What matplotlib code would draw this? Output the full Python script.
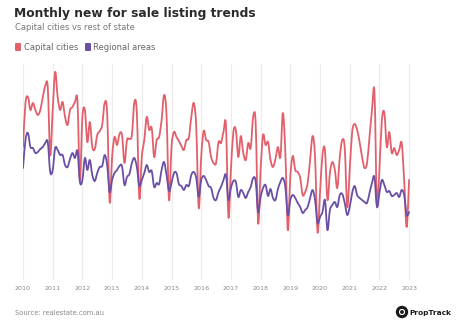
import matplotlib
matplotlib.use("Agg")
import matplotlib.pyplot as plt
from matplotlib.patches import FancyBboxPatch, Circle, PathPatch
from matplotlib.path import Path

# Monthly series, Jan 2010 .. Jan 2023 (index units)
capital = [
    133, 177, 183, 170, 177, 170, 165, 170, 183, 194, 193, 125,   # 2010
    170, 208, 183, 170, 178, 163, 155, 170, 173, 178, 179, 100,   # 2011
    163, 170, 138, 158, 133, 131, 145, 149, 155, 177, 167, 78,    # 2012
    123, 143, 135, 146, 145, 117, 140, 141, 145, 178, 167, 82,    # 2013
    123, 140, 163, 150, 152, 123, 140, 143, 160, 185, 165, 80,    # 2014
    133, 148, 143, 139, 134, 130, 140, 142, 163, 177, 153, 72,    # 2015
    123, 149, 140, 138, 123, 117, 117, 138, 137, 148, 155, 63,    # 2016
    110, 148, 150, 123, 144, 127, 120, 137, 132, 163, 157, 57,    # 2017
    110, 145, 135, 138, 120, 113, 121, 133, 123, 167, 127, 50,    # 2018
    103, 124, 110, 108, 102, 85, 88, 97, 120, 144, 123, 48,       # 2019
    87, 125, 130, 80, 107, 118, 110, 92, 123, 140, 132, 73,       # 2020
    110, 148, 156, 150, 138, 123, 112, 117, 143, 170, 188, 77,    # 2021
    110, 160, 167, 133, 148, 127, 132, 125, 130, 137, 100, 53,    # 2022
    100,                                                           # 2023
]
regional = [
    112, 140, 147, 133, 132, 127, 128, 131, 133, 137, 138, 108,   # 2010
    110, 132, 130, 125, 125, 115, 113, 121, 127, 122, 129, 98,    # 2011
    100, 122, 110, 120, 105, 99, 107, 113, 114, 125, 115, 88,     # 2012
    100, 107, 110, 114, 114, 95, 103, 106, 117, 122, 113, 94,     # 2013
    100, 107, 115, 108, 109, 93, 97, 96, 110, 118, 105, 89,       # 2014
    97, 107, 107, 96, 94, 90, 95, 94, 105, 108, 102, 83,          # 2015
    100, 104, 100, 94, 92, 82, 80, 88, 93, 100, 105, 80,          # 2016
    92, 99, 98, 83, 90, 87, 82, 88, 93, 102, 99, 68,              # 2017
    83, 92, 95, 84, 91, 82, 80, 91, 98, 102, 93, 65,              # 2018
    80, 85, 82, 77, 73, 67, 70, 73, 82, 90, 80, 57,               # 2019
    63, 68, 80, 50, 70, 75, 78, 73, 85, 86, 77, 65,               # 2020
    73, 87, 94, 85, 82, 80, 78, 77, 87, 97, 103, 73,              # 2021
    87, 100, 95, 88, 89, 84, 85, 87, 83, 90, 85, 65,              # 2022
    68,                                                            # 2023
]
year_labels = [str(y) for y in range(2010, 2024)]
series_names = ["Capital cities", "Regional areas"]

RED = "#e2606c"
PURPLE = "#6a4fa6"
GRID = "#ececec"
GREY = "#8a8a8a"

W, H = 460, 334
fig = plt.figure(figsize=(W / 100, H / 100), dpi=100)
fig.patch.set_facecolor("white")

def fx(px):
    return px / W

def fy(py):
    return 1 - py / H

def smooth_path(xs, ys, t=0.5):
    """Catmull-Rom style cubic Bezier path through every data point."""
    n = len(xs)
    verts = [(xs[0], ys[0])]
    codes = [Path.MOVETO]
    for i in range(n - 1):
        x0, y0 = xs[max(i - 1, 0)], ys[max(i - 1, 0)]
        x1, y1 = xs[i], ys[i]
        x2, y2 = xs[i + 1], ys[i + 1]
        x3, y3 = xs[min(i + 2, n - 1)], ys[min(i + 2, n - 1)]
        c1 = (x1 + (x2 - x0) * t / 3, y1 + (y2 - y0) * t / 3)
        c2 = (x2 - (x3 - x1) * t / 3, y2 - (y3 - y1) * t / 3)
        verts += [c1, c2, (x2, y2)]
        codes += [Path.CURVE4] * 3
    return Path(verts, codes)

# plot axes: x from 23px to 440px, y from 64px to 280px
px_per_month = 2.475
ax = fig.add_axes([fx(23), fy(280), fx(440 - 23), (280 - 64) / H])
ax.set_xlim(0, (440 - 23) / px_per_month)
ax.set_ylim(0, 216)
for s in ax.spines.values():
    s.set_visible(False)
ax.set_yticks([])
ticks = [12 * i for i in range(len(year_labels))]
ax.set_xticks(ticks)
ax.set_xticklabels([])
ax.tick_params(axis="x", length=0)
for t in ticks:
    ax.axvline(t, color=GRID, lw=0.8, zorder=0)

months = list(range(len(capital)))
for vals, col, z in [(capital, RED, 2), (regional, PURPLE, 3)]:
    ax.add_patch(PathPatch(smooth_path(months, vals), facecolor="none", edgecolor=col,
                           lw=1.3, joinstyle="round", capstyle="round", zorder=z))

# year labels
for t, lab in zip(ticks, year_labels):
    ax.annotate(lab, xy=(t, 0), xycoords="data", xytext=(0, -6),
                textcoords="offset points", ha="center", va="center",
                fontsize=4.6, color=GREY, family="DejaVu Sans")

# title block
fig.text(fx(14), fy(14), "Monthly new for sale listing trends", fontsize=8.8,
         fontweight="bold", color="#2b2b2b", va="center", ha="left", family="DejaVu Sans")
fig.text(fx(15), fy(27), "Capital cities vs rest of state", fontsize=6.0,
         color="#777777", va="center", ha="left", family="DejaVu Sans")

# legend
for x0, col, name in [(15, RED, series_names[0]), (85, PURPLE, series_names[1])]:
    fig.patches.append(FancyBboxPatch((fx(x0), fy(51)), fx(6), 8 / H,
                                      boxstyle="round,pad=0,rounding_size=0.003",
                                      transform=fig.transFigure, facecolor=col,
                                      edgecolor="none"))
    fig.text(fx(x0 + 8.5), fy(47), name, fontsize=6.0, color="#666666",
             va="center", ha="left", family="DejaVu Sans")

# source
fig.text(fx(15), fy(313), "Source: realestate.com.au", fontsize=4.9, color=GREY,
         va="center", ha="left", family="DejaVu Sans")

# PropTrack mark
logo_ax = fig.add_axes([0, 0, 1, 1], facecolor="none")
logo_ax.set_xlim(0, W)
logo_ax.set_ylim(H, 0)
logo_ax.axis("off")
logo_ax.add_patch(Circle((402, 312), 5.5, color="#1a1a1a"))
logo_ax.add_patch(Circle((402, 312), 2.4, color="white"))
logo_ax.add_patch(Circle((402, 312), 1.2, color="#1a1a1a"))
logo_ax.text(409, 312.5, "PropTrack", fontsize=5.3, fontweight="bold", color="#1a1a1a",
             va="center", ha="left", family="DejaVu Sans")

fig.savefig("out.png", dpi=100, facecolor="white")
